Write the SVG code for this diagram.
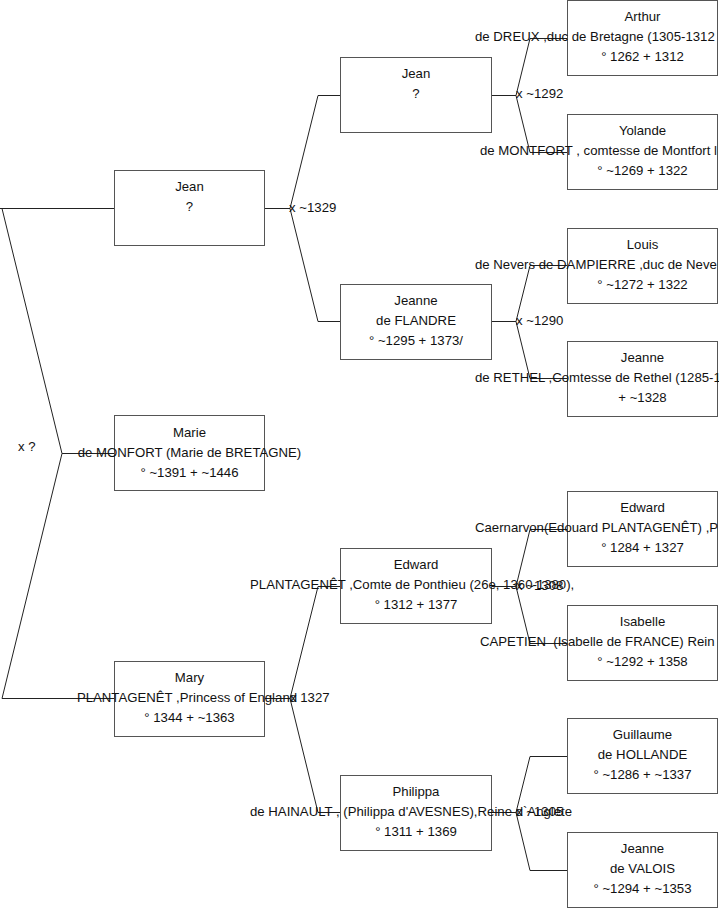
<svg xmlns="http://www.w3.org/2000/svg" width="719" height="908" viewBox="0 0 719 908">
<style>
.box{fill:#fff;stroke:#555;stroke-width:1}
.con{fill:none;stroke:#222;stroke-width:1}
text{font-family:"Liberation Sans",Arial,sans-serif;font-size:13.2px;fill:#111}
.c{text-anchor:middle}
.pre{white-space:pre}
</style>
<rect width="719" height="908" fill="#fff"/>
<g id="connectors">
<path class="con" d="M0,208.5H114.5M2,208.5L62,453.5L2,698.5M62,453.5H114.5M2,698.5H114.5"/>
<path class="con" d="M264.5,208.5H290M318,95.5L290,208.5L318,321.5M318,95.5H340.5M318,321.5H340.5"/>
<path class="con" d="M264.5,698.5H290M318,586.5L290,698.5L318,812.5M318,586.5H340.5M318,812.5H340.5"/>
<path class="con" d="M491.5,95.5H516M530,38.5L516,95.5L530,152.5M530,38.5H567.5M530,152.5H567.5"/>
<path class="con" d="M491.5,321.5H516M530,265.5L516,321.5L530,378.5M530,265.5H567.5M530,378.5H567.5"/>
<path class="con" d="M491.5,586.5H516M530,529.5L516,586.5L530,643.5M530,529.5H567.5M530,643.5H567.5"/>
<path class="con" d="M491.5,812.5H516M530,756.5L516,812.5L530,870.5M530,756.5H567.5M530,870.5H567.5"/>
</g>
<g id="n-jean1"><rect class="box" x="114.5" y="170.5" width="150" height="75"/>
<text class="c" x="189.5" y="191">Jean</text><text class="c" x="189.5" y="211">?</text></g>
<g id="n-marie"><rect class="box" x="114.5" y="415.5" width="150" height="75"/>
<text class="c" x="189.5" y="437">Marie</text><text class="c" x="189.5" y="457">de MONFORT (Marie de BRETAGNE)</text><text class="c" x="189.5" y="477">° ~1391 + ~1446</text></g>
<g id="n-mary"><rect class="box" x="114.5" y="661.5" width="150" height="75"/>
<text class="c" x="189.5" y="682">Mary</text><text class="c" x="187" y="702">PLANTAGENÊT ,Princess of England</text><text class="c" x="189.5" y="722">° 1344 + ~1363</text></g>
<g id="n-jean2"><rect class="box" x="340.5" y="57.5" width="151" height="75"/>
<text class="c" x="416" y="78">Jean</text><text class="c" x="416" y="98">?</text></g>
<g id="n-jeanne-flandre"><rect class="box" x="340.5" y="284.5" width="151" height="75"/>
<text class="c" x="416" y="305">Jeanne</text><text class="c" x="416" y="325">de FLANDRE</text><text class="c" x="416" y="345">° ~1295 + 1373/</text></g>
<g id="n-edward2"><rect class="box" x="340.5" y="548.5" width="151" height="75"/>
<text class="c" x="416" y="569">Edward</text><text x="250" y="589">PLANTAGENÊT ,Comte de Ponthieu (26e, 1360-1380),</text><text class="c" x="416" y="609">° 1312 + 1377</text></g>
<g id="n-philippa"><rect class="box" x="340.5" y="775.5" width="151" height="75"/>
<text class="c" x="416" y="796">Philippa</text><text x="250" y="816">de HAINAULT , (Philippa d'AVESNES),Reine d`Anglete</text><text class="c" x="416" y="836">° 1311 + 1369</text></g>
<g id="n-arthur"><rect class="box" x="567.5" y="0.5" width="150" height="75"/>
<text class="c" x="642.5" y="21">Arthur</text><text x="475" y="41">de DREUX ,duc de Bretagne (1305-1312</text><text class="c" x="642.5" y="61">° 1262 + 1312</text></g>
<g id="n-yolande"><rect class="box" x="567.5" y="114.5" width="150" height="75"/>
<text class="c" x="642.5" y="135">Yolande</text><text x="480" y="155">de MONTFORT , comtesse de Montfort l</text><text class="c" x="642.5" y="175">° ~1269 + 1322</text></g>
<g id="n-louis"><rect class="box" x="567.5" y="228.5" width="150" height="75"/>
<text class="c" x="642.5" y="249">Louis</text><text x="475" y="269">de Nevers de DAMPIERRE ,duc de Neve</text><text class="c" x="642.5" y="289">° ~1272 + 1322</text></g>
<g id="n-jeanne-rethel"><rect class="box" x="567.5" y="341.5" width="150" height="75"/>
<text class="c" x="642.5" y="362">Jeanne</text><text x="475" y="382">de RETHEL ,Comtesse de Rethel (1285-1</text><text class="c" x="642.5" y="402">+ ~1328</text></g>
<g id="n-edward3"><rect class="box" x="567.5" y="491.5" width="150" height="75"/>
<text class="c" x="642.5" y="512">Edward</text><text x="475" y="532">Caernarvon(Edouard PLANTAGENÊT) ,P</text><text class="c" x="642.5" y="552">° 1284 + 1327</text></g>
<g id="n-isabelle"><rect class="box" x="567.5" y="605.5" width="150" height="75"/>
<text class="c" x="642.5" y="626">Isabelle</text><text class="pre" x="480" y="646">CAPETIEN  (Isabelle de FRANCE) Rein</text><text class="c" x="642.5" y="666">° ~1292 + 1358</text></g>
<g id="n-guillaume"><rect class="box" x="567.5" y="718.5" width="150" height="75"/>
<text class="c" x="642.5" y="739">Guillaume</text><text class="c" x="642.5" y="759">de HOLLANDE</text><text class="c" x="642.5" y="779">° ~1286 + ~1337</text></g>
<g id="n-jeanne-valois"><rect class="box" x="567.5" y="832.5" width="150" height="75"/>
<text class="c" x="642.5" y="853">Jeanne</text><text class="c" x="642.5" y="873">de VALOIS</text><text class="c" x="642.5" y="893">° ~1294 + ~1353</text></g>
<g id="labels">
<text x="18" y="451">x ?</text>
<text x="289" y="212">x ~1329</text>
<text x="290" y="702">x 1327</text>
<text x="516" y="98">x ~1292</text>
<text x="516" y="325">x ~1290</text>
<text x="516" y="590">x ~1308</text>
<text x="516" y="816">x ~1305</text>
</g>
</svg>
